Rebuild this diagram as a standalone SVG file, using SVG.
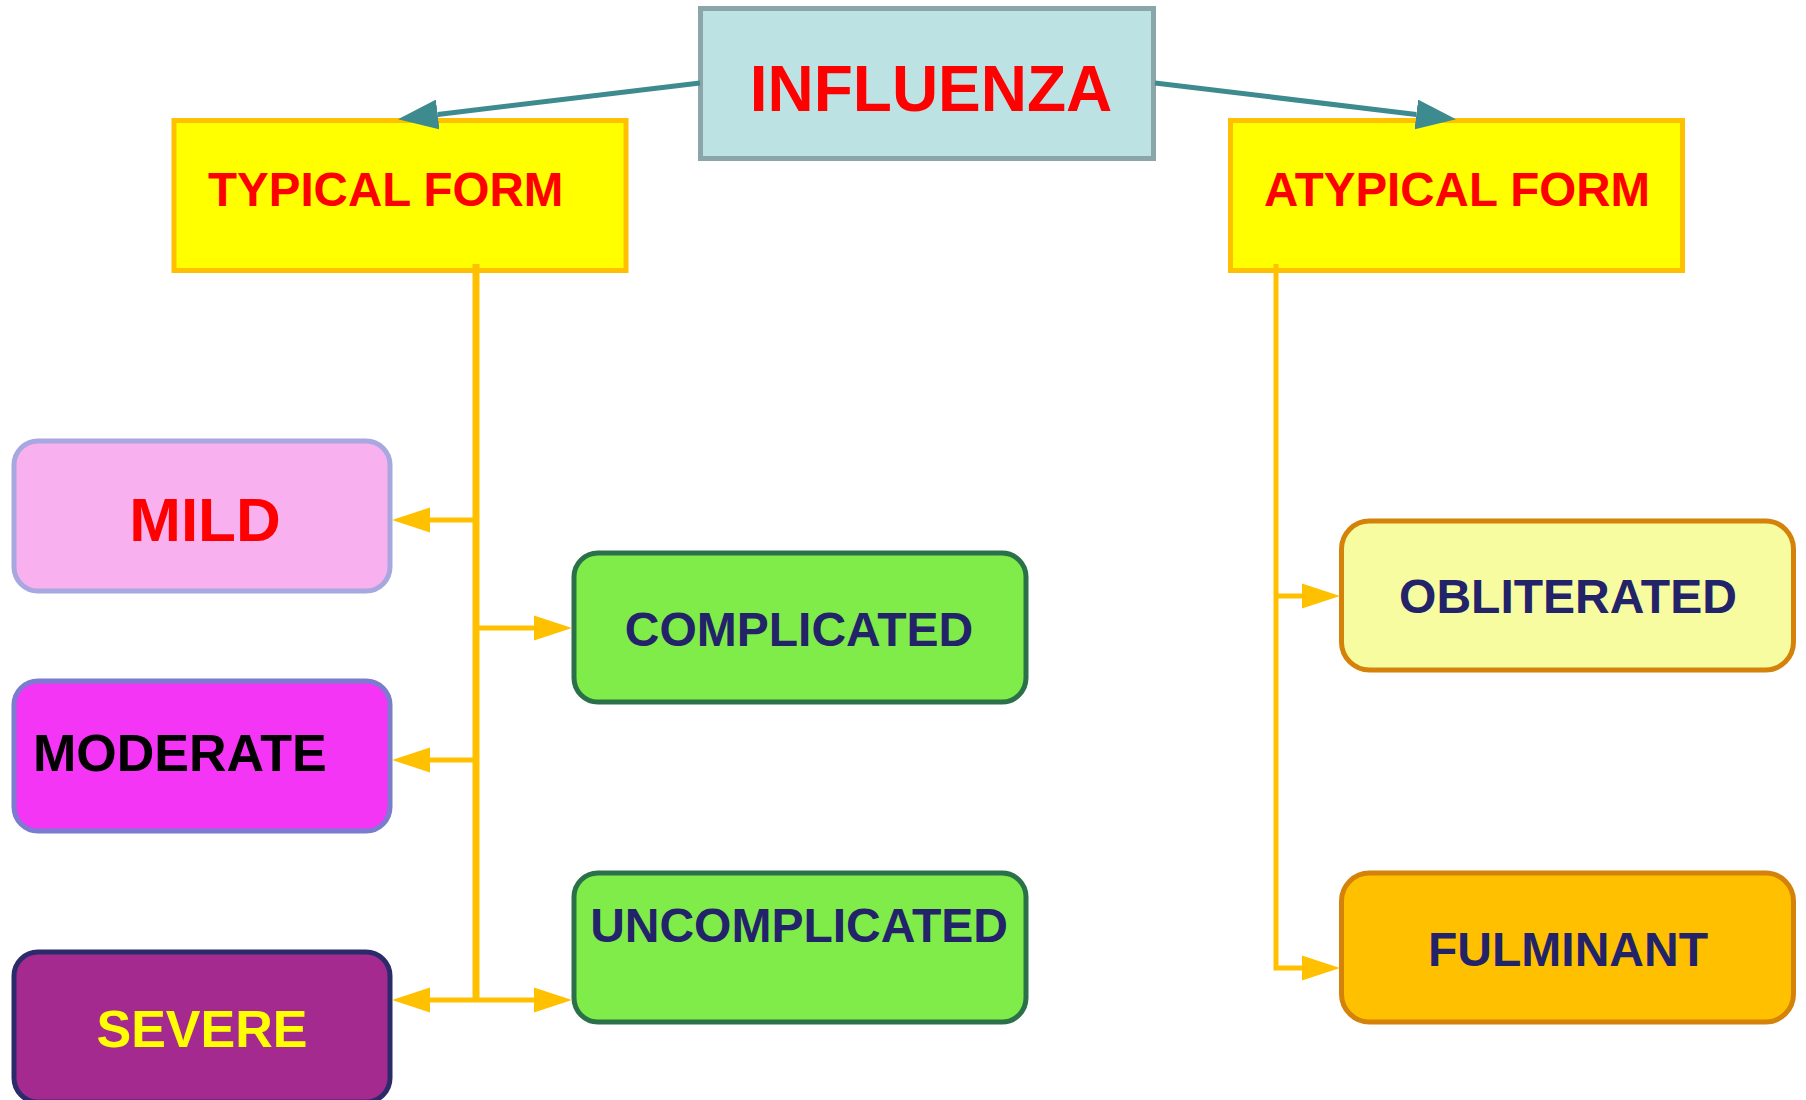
<svg xmlns="http://www.w3.org/2000/svg" width="1806" height="1100" viewBox="0 0 1806 1100">
<style>
text{font-family:"Liberation Sans",Arial,sans-serif;font-weight:bold}
.ylw{fill:none;stroke:#ffc000;stroke-width:5}
.teal{fill:none;stroke:#3d8b8f;stroke-width:5}
.navy{fill:#23236a;font-size:48px}
.red{fill:#ff0000}
</style>
<defs>
<marker id="ya" markerUnits="userSpaceOnUse" markerWidth="38" markerHeight="26" refX="0" refY="13" orient="auto"><path d="M0,0.5 L38,13 L0,25.5 z" fill="#ffc000"/></marker>
<marker id="ta" markerUnits="userSpaceOnUse" markerWidth="40" markerHeight="30" refX="0" refY="15" orient="auto"><path d="M0,0 L40,15 L0,30 z" fill="#3d8b8f"/></marker>
</defs>
<g id="influenza">
<rect x="700.5" y="8.5" width="453" height="150" fill="#bce2e4" stroke="#8aa6a8" stroke-width="5"/>
<text class="red" x="931" y="111" font-size="64" text-anchor="middle">INFLUENZA</text>
</g>
<g id="typical">
<rect x="174" y="120.5" width="452" height="150" fill="#ffff00" stroke="#ffc000" stroke-width="5"/>
<text class="red" x="208" y="206" font-size="47.5">TYPICAL FORM</text>
</g>
<g id="atypical">
<rect x="1230.5" y="120.5" width="452" height="150" fill="#ffff00" stroke="#ffc000" stroke-width="5"/>
<text class="red" x="1457" y="206" font-size="47.5" text-anchor="middle">ATYPICAL FORM</text>
</g>
<g id="mild">
<rect x="14" y="441" width="376" height="150" rx="24" fill="#f9b0ee" stroke="#a8a8e0" stroke-width="5"/>
<text class="red" x="205" y="541" font-size="62" text-anchor="middle">MILD</text>
</g>
<g id="moderate">
<rect x="14" y="681" width="376" height="150" rx="24" fill="#f535f5" stroke="#7b7bd0" stroke-width="5"/>
<text x="33" y="771" font-size="52" fill="#000">MODERATE</text>
</g>
<g id="severe">
<rect x="14" y="952" width="376" height="150" rx="24" fill="#a52a8f" stroke="#2b2b6b" stroke-width="5"/>
<text x="202" y="1047" font-size="52" fill="#ffff00" text-anchor="middle">SEVERE</text>
</g>
<g id="complicated">
<rect x="574" y="553" width="452" height="149" rx="24" fill="#80ec4a" stroke="#2a7048" stroke-width="5"/>
<text class="navy" x="799" y="646" text-anchor="middle">COMPLICATED</text>
</g>
<g id="uncomplicated">
<rect x="574" y="873" width="452" height="149" rx="24" fill="#80ec4a" stroke="#2a7048" stroke-width="5"/>
<text class="navy" x="799" y="942" text-anchor="middle">UNCOMPLICATED</text>
</g>
<g id="obliterated">
<rect x="1341.5" y="521" width="452" height="149" rx="28" fill="#f8fca0" stroke="#d4820a" stroke-width="5"/>
<text class="navy" x="1568" y="613" text-anchor="middle">OBLITERATED</text>
</g>
<g id="fulminant">
<rect x="1341.5" y="873" width="452" height="149" rx="28" fill="#ffc000" stroke="#d4820a" stroke-width="5"/>
<text class="navy" x="1568" y="966" text-anchor="middle">FULMINANT</text>
</g>
<g id="connectors">
<path class="teal" d="M700,83 L437.7,114.5" marker-end="url(#ta)"/>
<path class="teal" d="M1155,83 L1416.3,114.5" marker-end="url(#ta)"/>
<path class="ylw" style="stroke-width:7" d="M476,264 V1000"/>
<path class="ylw" d="M476,520 H430" marker-end="url(#ya)"/>
<path class="ylw" d="M476,628 H534" marker-end="url(#ya)"/>
<path class="ylw" d="M476,760 H430" marker-end="url(#ya)"/>
<path class="ylw" d="M476,1000 H430" marker-end="url(#ya)"/>
<path class="ylw" d="M476,1000 H534" marker-end="url(#ya)"/>
<path class="ylw" d="M1276,264 V968 H1302" marker-end="url(#ya)"/>
<path class="ylw" d="M1276,596 H1302" marker-end="url(#ya)"/>
</g>
</svg>
